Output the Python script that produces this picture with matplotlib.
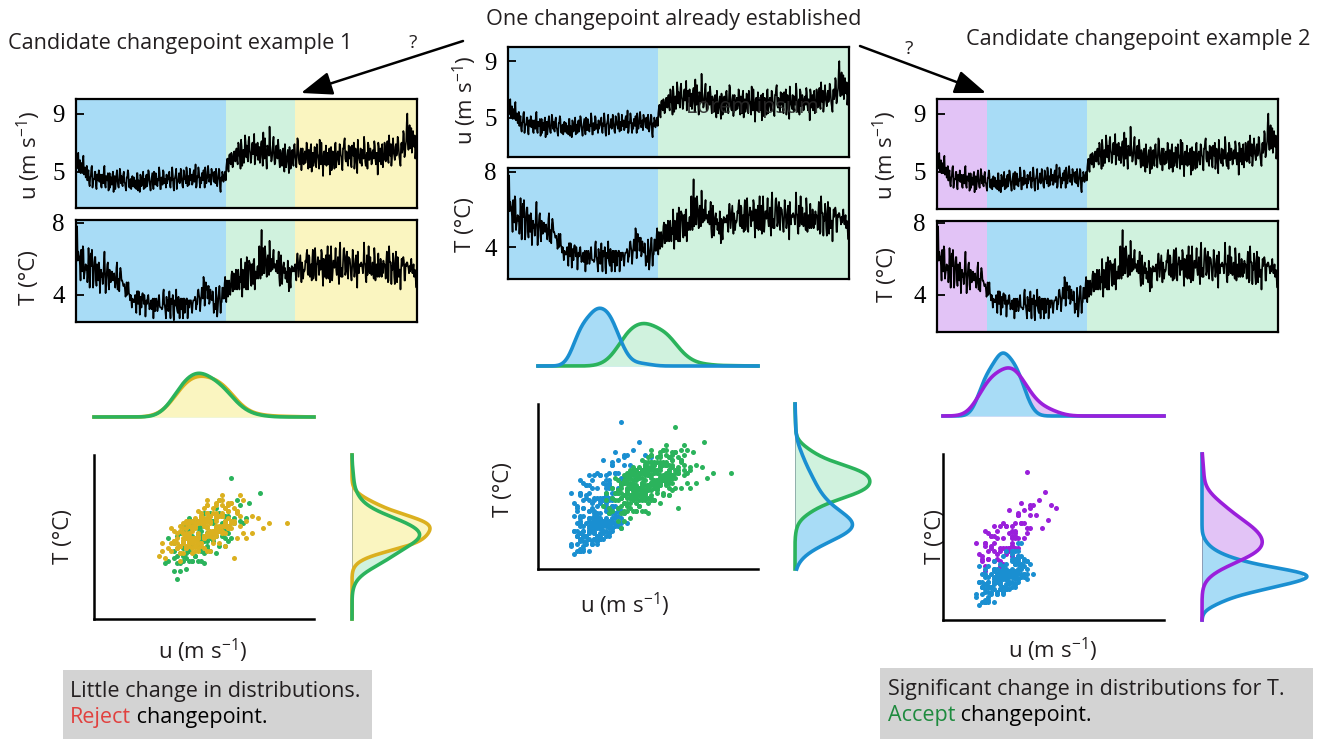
import numpy as np
import matplotlib
matplotlib.use("Agg")
import matplotlib.pyplot as plt
from matplotlib.patches import Rectangle

plt.rcParams['font.family'] = ['Open Sans', 'DejaVu Sans']
plt.rcParams['mathtext.default'] = 'regular'

# The traces were read as two interleaved halves:
# *_a holds samples 0, 2, 4, ... and *_b holds samples 1, 3, 5, ...
# wind speed u (m s-1)
u_a = [5.9, 5.3, 6.3, 5.4, 4.9, 5.6, 5.7, 4.8, 5.3, 4.7,
       4.4, 5.1, 4.0, 4.7, 5.4, 4.3, 4.5, 5.0, 3.8, 4.8,
       5.1, 4.4, 4.0, 4.8, 4.2, 5.4, 3.9, 4.5, 4.9, 3.8,
       3.9, 4.6, 4.8, 3.6, 4.7, 4.2, 5.1, 4.0, 4.5, 4.9,
       4.7, 4.0, 5.0, 4.2, 3.7, 4.6, 4.9, 3.9, 4.5, 4.1,
       4.0, 4.6, 4.3, 3.8, 4.9, 4.4, 3.6, 4.7, 4.2, 5.0,
       4.5, 3.9, 4.8, 4.4, 5.0, 4.0, 4.3, 4.9, 3.8, 4.6,
       4.9, 4.2, 4.5, 5.3, 3.8, 4.6, 4.1, 5.0, 4.4, 3.9,
       4.2, 4.5, 5.0, 3.9, 4.4, 4.8, 3.7, 4.6, 5.2, 4.3,
       4.6, 4.2, 5.2, 4.4, 3.9, 4.9, 4.5, 5.3, 4.0, 4.7,
       5.2, 4.5, 4.1, 4.9, 4.3, 5.5, 4.0, 4.6, 5.0, 3.9,
       4.2, 4.9, 5.1, 3.9, 5.0, 4.5, 5.4, 4.3, 4.8, 5.2,
       4.9, 4.3, 4.7, 5.2, 4.0, 4.6, 5.1, 3.6, 4.4, 4.8,
       4.5, 5.0, 5.3, 5.9, 5.0, 6.2, 5.5, 6.0, 5.4, 6.4,
       5.7, 6.6, 5.5, 6.9, 6.0, 7.2, 5.4, 6.5, 6.1, 7.0,
       6.8, 5.7, 7.4, 6.2, 5.9, 7.0, 6.4, 5.5, 6.9, 6.1,
       5.8, 6.7, 6.0, 7.1, 5.4, 6.5, 7.3, 5.9, 6.8, 6.2,
       8.1, 6.4, 5.8, 7.0, 6.1, 5.6, 6.8, 5.9, 6.6, 5.3,
       6.2, 5.4, 6.6, 5.0, 6.0, 5.7, 6.5, 4.9, 6.3, 5.6,
       6.5, 5.4, 6.9, 5.8, 6.2, 7.1, 5.6, 6.3, 5.1, 6.6,
       5.5, 6.4, 5.9, 6.8, 5.2, 6.1, 6.6, 5.0, 6.3, 5.7,
       6.6, 5.3, 6.2, 5.8, 7.2, 5.5, 6.0, 4.7, 6.4, 5.9,
       5.4, 6.3, 5.9, 4.8, 6.7, 5.6, 6.1, 5.2, 7.0, 5.8,
       6.4, 5.5, 6.8, 6.0, 5.1, 6.6, 7.3, 5.7, 6.2, 5.4,
       5.9, 6.7, 5.3, 6.3, 7.0, 5.6, 6.1, 4.9, 6.5, 5.8,
       6.6, 5.4, 6.2, 7.4, 5.7, 6.0, 5.2, 6.8, 5.9, 6.3,
       5.6, 6.5, 7.1, 5.8, 6.3, 4.8, 6.7, 6.0, 5.5, 6.9,
       6.2, 7.0, 5.7, 6.5, 5.9, 7.5, 6.1, 5.4, 6.8, 6.3,
       5.8, 6.9, 6.3, 7.2, 6.0, 5.4, 7.0, 6.6, 7.6, 6.2,
       7.1, 9.0, 6.5, 8.2, 7.4, 6.3, 7.8, 6.7, 5.9, 7.2]
u_b = [5.2, 6.0, 5.0, 5.8, 5.5, 4.9, 6.1, 5.0, 4.6, 5.4,
       4.9, 4.2, 4.6, 5.3, 3.9, 4.5, 5.0, 4.1, 4.8, 4.4,
       4.3, 4.8, 3.9, 4.6, 5.2, 4.1, 4.7, 4.4, 3.7, 4.9,
       4.6, 4.1, 5.0, 4.3, 3.8, 4.8, 4.4, 3.9, 5.2, 4.2,
       4.1, 4.8, 4.3, 3.9, 4.6, 5.1, 4.0, 4.4, 3.8, 4.7,
       4.6, 3.9, 4.4, 4.9, 3.7, 4.2, 4.8, 4.0, 4.5, 3.8,
       4.2, 4.7, 4.0, 5.1, 4.4, 3.7, 4.6, 4.3, 5.0, 4.1,
       4.7, 4.0, 4.4, 4.9, 3.8, 4.6, 5.1, 4.2, 4.5, 4.8,
       4.4, 4.9, 4.1, 4.6, 5.3, 4.0, 4.5, 4.8, 3.8, 4.3,
       4.9, 4.3, 4.7, 4.0, 5.1, 4.5, 4.2, 5.0, 4.6, 4.1,
       4.4, 4.8, 4.2, 5.1, 4.5, 3.9, 4.7, 5.3, 4.3, 4.6,
       4.9, 4.4, 4.8, 5.3, 4.2, 4.6, 5.0, 4.5, 4.1, 4.9,
       4.5, 5.0, 4.2, 4.7, 4.4, 5.2, 3.9, 4.6, 5.0, 4.3,
       4.8, 4.4, 5.7, 5.2, 6.1, 5.6, 6.3, 5.3, 6.2, 5.8,
       6.4, 5.8, 7.0, 6.1, 5.2, 6.7, 6.3, 5.6, 7.5, 6.0,
       6.0, 7.1, 6.5, 5.6, 6.8, 6.2, 7.6, 5.8, 6.3, 7.0,
       6.6, 5.6, 6.9, 6.2, 7.7, 5.9, 6.4, 5.2, 6.7, 6.1,
       6.9, 5.7, 6.3, 7.4, 5.5, 6.6, 6.0, 7.2, 5.8, 6.5,
       5.5, 6.4, 5.8, 6.9, 5.3, 6.1, 5.6, 6.7, 5.2, 6.0,
       5.7, 6.8, 6.1, 5.3, 7.3, 6.0, 5.5, 6.6, 6.2, 5.6,
       6.2, 5.6, 7.0, 5.8, 6.5, 5.3, 6.9, 6.0, 5.4, 6.7,
       5.6, 6.9, 6.1, 5.2, 6.5, 7.0, 5.7, 6.3, 5.5, 6.8,
       6.1, 5.5, 6.6, 6.0, 5.1, 6.4, 5.7, 6.9, 5.3, 6.2,
       5.8, 6.9, 6.2, 5.4, 6.6, 7.1, 5.9, 6.4, 5.6, 6.8,
       6.3, 5.5, 6.8, 6.1, 5.2, 6.6, 5.8, 7.2, 6.0, 5.6,
       5.7, 6.5, 5.9, 6.9, 5.4, 6.3, 7.0, 5.8, 6.6, 5.5,
       6.4, 5.9, 6.8, 5.5, 6.2, 7.0, 5.7, 6.6, 6.1, 5.3,
       5.8, 6.6, 6.0, 7.1, 5.6, 6.4, 6.9, 5.9, 7.3, 6.1,
       6.7, 6.1, 7.4, 6.5, 5.7, 6.9, 6.3, 7.8, 6.0, 6.8,
       8.4, 7.0, 7.6, 6.6, 8.0, 7.3, 6.9, 7.5, 6.4, 6.9]

# temperature T (deg C), same sampling
T_a = [7.0, 7.8, 6.4, 6.1, 4.8, 6.1, 6.7, 4.9, 5.4, 5.4,
       4.7, 6.6, 4.4, 6.3, 6.5, 4.4, 5.8, 6.1, 4.5, 5.3,
       5.8, 4.1, 5.4, 5.2, 5.0, 6.4, 4.1, 5.2, 5.8, 4.3,
       5.0, 4.8, 4.9, 5.0, 4.7, 4.7, 5.8, 4.4, 4.2, 5.5,
       4.8, 4.7, 4.5, 4.3, 4.1, 4.0, 4.7, 4.0, 4.0, 3.3,
       3.7, 3.6, 4.0, 3.0, 4.2, 4.2, 2.9, 3.9, 4.0, 3.9,
       4.0, 2.8, 3.7, 3.9, 3.6, 3.3, 3.7, 3.7, 2.7, 3.8,
       3.6, 3.6, 3.3, 4.0, 3.3, 3.3, 3.3, 4.3, 3.4, 2.7,
       3.4, 3.1, 4.2, 2.7, 3.5, 4.0, 2.6, 3.4, 4.3, 3.1,
       3.9, 2.7, 3.8, 3.8, 2.7, 3.8, 3.7, 3.8, 2.7, 3.7,
       3.7, 3.7, 3.0, 3.7, 3.7, 3.8, 3.5, 4.2, 4.0, 3.1,
       3.9, 3.9, 5.0, 3.4, 4.7, 4.5, 4.2, 3.5, 4.3, 3.8,
       4.2, 3.0, 3.5, 4.4, 2.8, 3.8, 4.5, 3.0, 3.6, 4.4,
       3.8, 5.0, 3.6, 4.5, 4.3, 4.2, 4.5, 5.3, 4.2, 4.7,
       4.7, 4.6, 4.8, 4.9, 5.0, 6.0, 3.9, 5.1, 5.1, 5.1,
       6.1, 4.3, 5.9, 5.7, 4.5, 5.7, 5.9, 4.3, 5.2, 5.3,
       4.9, 6.7, 4.9, 7.6, 5.4, 5.2, 6.7, 5.8, 5.8, 5.2,
       7.0, 5.3, 5.9, 6.1, 5.5, 5.7, 5.6, 5.2, 6.4, 4.5,
       6.2, 4.6, 5.6, 5.2, 4.9, 5.1, 5.9, 4.2, 4.8, 5.2,
       5.3, 5.4, 5.6, 5.1, 6.0, 5.9, 5.4, 6.2, 4.7, 5.5,
       5.4, 5.4, 5.8, 6.5, 5.1, 6.1, 5.5, 4.8, 6.5, 5.1,
       6.6, 4.8, 5.7, 5.9, 5.9, 5.4, 6.3, 4.5, 5.5, 5.8,
       4.9, 6.7, 4.9, 4.7, 6.7, 4.8, 5.9, 5.5, 6.6, 5.1,
       6.1, 4.6, 6.9, 5.0, 5.0, 6.5, 6.2, 5.3, 6.4, 4.9,
       6.0, 5.6, 4.8, 6.5, 5.6, 5.3, 6.2, 4.4, 5.4, 5.7,
       5.6, 5.7, 5.2, 6.9, 5.7, 4.7, 5.1, 6.7, 5.2, 5.3,
       5.2, 5.2, 6.6, 4.8, 5.7, 5.0, 5.5, 5.2, 5.6, 5.7,
       5.9, 5.7, 4.9, 6.4, 4.7, 6.7, 5.8, 4.6, 5.4, 5.9,
       4.6, 6.4, 4.7, 5.8, 5.4, 4.3, 6.0, 5.9, 5.9, 4.8,
       5.6, 5.8, 5.5, 5.6, 5.7, 5.4, 5.4, 5.0, 5.2, 4.4]
T_b = [6.3, 5.9, 6.2, 5.6, 6.5, 5.3, 6.5, 5.2, 5.7, 5.6,
       5.2, 5.7, 5.7, 5.6, 5.5, 4.8, 6.1, 4.9, 5.7, 4.8,
       5.5, 5.0, 5.0, 4.6, 5.8, 5.3, 4.8, 5.7, 4.6, 5.4,
       4.7, 5.3, 4.8, 5.2, 4.4, 5.5, 4.3, 4.9, 5.2, 5.3,
       4.8, 4.5, 4.6, 3.9, 4.7, 4.2, 4.1, 3.7, 3.8, 3.8,
       3.6, 3.8, 3.4, 4.2, 3.5, 4.0, 3.8, 3.3, 4.1, 3.5,
       3.7, 3.4, 3.5, 4.0, 3.2, 3.5, 3.2, 3.8, 3.6, 3.1,
       3.8, 3.1, 3.8, 3.4, 3.3, 3.2, 4.1, 3.5, 3.1, 3.9,
       3.7, 3.3, 3.3, 3.8, 3.6, 2.9, 3.7, 3.5, 3.3, 3.0,
       3.4, 3.6, 3.2, 3.3, 3.8, 3.0, 3.5, 3.8, 3.2, 3.3,
       3.7, 3.3, 3.5, 3.7, 3.9, 3.2, 3.5, 4.3, 3.8, 3.6,
       4.4, 3.8, 4.7, 4.3, 4.3, 3.8, 4.5, 3.6, 3.8, 3.7,
       3.8, 3.5, 3.2, 3.9, 3.2, 4.1, 3.7, 3.6, 4.4, 3.8,
       4.6, 3.8, 4.8, 3.9, 4.8, 4.0, 5.1, 4.2, 5.2, 4.3,
       5.4, 4.3, 5.4, 4.3, 4.7, 4.9, 5.4, 4.4, 5.8, 4.3,
       5.4, 5.2, 5.8, 4.6, 5.7, 4.6, 6.0, 5.3, 4.9, 5.6,
       5.5, 5.7, 6.1, 5.1, 6.6, 5.2, 6.2, 5.0, 6.2, 5.1,
       5.9, 6.0, 5.4, 6.5, 5.7, 5.3, 5.9, 5.8, 5.0, 5.9,
       5.5, 5.2, 5.8, 5.5, 5.3, 4.7, 5.2, 5.5, 4.4, 5.6,
       5.5, 5.3, 5.7, 4.8, 6.3, 5.0, 5.8, 5.5, 5.8, 4.9,
       5.3, 5.9, 6.3, 5.2, 6.2, 5.0, 5.7, 5.9, 4.9, 6.1,
       5.8, 5.7, 6.1, 5.1, 5.4, 6.5, 5.2, 6.0, 5.0, 6.2,
       5.9, 5.0, 6.2, 5.3, 5.6, 5.3, 5.9, 5.9, 5.4, 5.3,
       5.2, 6.4, 5.3, 5.5, 5.7, 6.6, 5.1, 6.1, 5.2, 6.1,
       6.0, 5.1, 5.5, 6.0, 5.0, 6.0, 5.0, 6.4, 5.2, 5.6,
       5.8, 5.5, 5.7, 5.8, 4.9, 6.2, 5.6, 5.5, 6.1, 5.1,
       5.8, 4.9, 6.1, 5.2, 5.2, 6.3, 5.0, 6.0, 5.0, 5.2,
       5.6, 5.4, 5.8, 5.8, 4.8, 5.9, 5.8, 5.6, 6.3, 5.0,
       5.7, 4.9, 6.1, 5.0, 5.4, 5.4, 5.6, 6.1, 4.8, 5.7,
       5.8, 5.6, 5.2, 5.3, 6.0, 5.2, 5.7, 5.4, 4.7, 4.9]

# changepoints: index of the first sample of a new segment
cp_early = 88    # candidate, example 2
cp_main = 264    # already established
cp_late = 386    # candidate, example 1

U_TICKS = [5, 9]
T_TICKS = [4, 8]
U_LABEL = 'u (m s$^{-1}$)'
T_LABEL = 'T (°C)'
U_LIM = (2.5, 9.9)
T_LIM = (2.0, 8.5)

# (fill, line) colour per segment
BLUE = ('#a8dcf6', '#1a8fd1')
GREEN = ('#d0f2de', '#2bb35c')
YELLOW = ('#faf5c0', '#dbb01f')
PURPLE = ('#e2c3f6', '#9a1fdb')
TXT = '#231f20'

W, H = 1320, 739
fig = plt.figure(figsize=(W / 100, H / 100), dpi=100)


def px_axes(l, t, r, b):
    return fig.add_axes([l / W, 1 - b / H, (r - l) / W, (b - t) / H])


# overlay in pixel coordinates for titles, arrows and boxes
ov = px_axes(0, 0, W, H)
ov.set_xlim(0, W)
ov.set_ylim(H, 0)
ov.axis('off')

uu = np.column_stack([u_a, u_b]).ravel()
tt = np.column_stack([T_a, T_b]).ravel()
n = len(uu)
idx = np.arange(n)


def series(box, y, ylim, ticks, segs):
    ax = px_axes(*box)
    for a, b, col in segs:
        ax.axvspan(a - 0.5, b - 0.5, color=col[0], lw=0)
    ax.plot(idx, y, color='k', lw=1.2)
    ax.set_xlim(0, n - 1)
    ax.set_ylim(*ylim)
    ax.set_xticks([])
    ax.set_yticks(ticks)
    ax.tick_params(axis='y', direction='in', length=6, width=1.3, pad=8,
                   labelsize=18, labelfontfamily='Liberation Serif')
    for s in ax.spines.values():
        s.set_linewidth(1.6)
    return ax


def kde(v, grid):
    v = np.asarray(v, float)
    bw = 1.4 * v.std(ddof=1) * len(v) ** -0.2
    z = (grid[:, None] - v[None, :]) / bw
    return np.exp(-0.5 * z ** 2).sum(1) / (len(v) * bw * np.sqrt(2 * np.pi))


def joint(sbox, tbox, rbox, first, second):
    segs = (first, second)
    ax = px_axes(*sbox)
    for lo, hi, c in segs:
        ax.scatter(uu[lo:hi], tt[lo:hi], s=13, color=c[1], lw=0)
    ax.set_xlim(*U_LIM)
    ax.set_ylim(*T_LIM)
    ax.set_xticks([])
    ax.set_yticks([])
    for s in ['top', 'right']:
        ax.spines[s].set_visible(False)
    for s in ['left', 'bottom']:
        ax.spines[s].set_linewidth(1.8)

    top = px_axes(*tbox)
    gu = np.linspace(*U_LIM, 300)
    du = [kde(uu[lo:hi], gu) for lo, hi, c in segs]
    for d, (lo, hi, c) in zip(du, segs):
        top.fill_between(gu, 0, d, color=c[0], lw=0)
    for d, (lo, hi, c) in reversed(list(zip(du, segs))):
        top.plot(gu, d, color=c[1], lw=2.6, clip_on=False)
    top.set_xlim(*U_LIM)
    top.set_ylim(0, 0.85)
    top.axis('off')
    top.axhline(0, color='k', lw=1.8, zorder=0)

    side = px_axes(*rbox)
    gt = np.linspace(*T_LIM, 300)
    dt = [kde(tt[lo:hi], gt) for lo, hi, c in segs]
    for d, (lo, hi, c) in zip(dt, segs):
        side.fill_betweenx(gt, 0, d, color=c[0], lw=0)
    for d, (lo, hi, c) in reversed(list(zip(dt, segs))):
        side.plot(d, gt, color=c[1], lw=2.6, clip_on=False)
    side.set_ylim(*T_LIM)
    side.set_xlim(0, 0.77)
    side.axis('off')
    side.axvline(0, color='k', lw=1.8, zorder=0)


# left: candidate changepoint example 1
left_segs = [(0, cp_main, BLUE), (cp_main, cp_late, GREEN), (cp_late, n + 1, YELLOW)]
series((76, 99, 417, 208), uu, (2.5, 10.0), U_TICKS, left_segs)
series((76, 220, 417, 322), tt, (2.5, 8.15), T_TICKS, left_segs)
joint((94, 455, 314, 619), (94, 345, 314, 417), (352, 455, 452, 619),
      (cp_main, cp_late, GREEN), (cp_late, n, YELLOW))

# middle: one changepoint already established
mid_segs = [(0, cp_main, BLUE), (cp_main, n + 1, GREEN)]
axm = series((508, 47, 849, 157), uu, (2.2, 10.0), U_TICKS, mid_segs)
series((508, 168, 849, 279), tt, (2.3, 8.2), T_TICKS, mid_segs)
axm.text(0.718, 0.45, 'Lorem ipsum', transform=axm.transAxes, ha='center',
         va='center', fontsize=15.5, color='#2a2a2a', alpha=0.9)
joint((538, 404, 758, 569), (538, 294, 758, 366), (795, 404, 895, 569),
      (0, cp_main, BLUE), (cp_main, n, GREEN))

# right: candidate changepoint example 2
right_segs = [(0, cp_early, PURPLE), (cp_early, cp_main, BLUE), (cp_main, n + 1, GREEN)]
series((937, 99, 1278, 209), uu, (2.45, 10.0), U_TICKS, right_segs)
series((937, 221, 1278, 332), tt, (1.95, 8.1), T_TICKS, right_segs)
joint((943, 454, 1164, 620), (943, 344, 1164, 416), (1202, 454, 1302, 620),
      (0, cp_early, PURPLE), (cp_early, cp_main, BLUE))

# titles
ov.text(8, 43, 'Candidate changepoint example 1', ha='left', va='center',
        fontsize=15.6, color=TXT)
ov.text(674, 20, 'One changepoint already established', ha='center',
        va='center', fontsize=15.6, color=TXT)
ov.text(1138, 39, 'Candidate changepoint example 2', ha='center', va='center',
        fontsize=15.6, color=TXT)

# axis labels
for x, y, lab in [(29, 155, U_LABEL), (29, 278, T_LABEL),
                  (465, 100, U_LABEL), (465, 225, T_LABEL),
                  (885, 155, U_LABEL), (887, 275, T_LABEL),
                  (63, 537, T_LABEL), (504, 490, T_LABEL), (935, 537, T_LABEL)]:
    ov.text(x, y, lab, rotation=90, ha='center', va='center', fontsize=16,
            color=TXT)
for x, y in [(203, 651), (625, 605), (1053, 650)]:
    ov.text(x, y, U_LABEL, ha='center', va='center', fontsize=16, color=TXT)

# arrows with question marks
head = dict(arrowstyle='-|>,head_length=0.8,head_width=0.3', color='k',
            lw=1.8, mutation_scale=24, shrinkA=0, shrinkB=0)
ov.annotate('', xy=(301, 93), xytext=(463, 41), arrowprops=head)
ov.annotate('', xy=(986, 93), xytext=(860, 46), arrowprops=head)
ov.text(413, 43, '?', ha='center', va='center', fontsize=14, color=TXT)
ov.text(909, 49, '?', ha='center', va='center', fontsize=14, color=TXT)

# verdict boxes
ov.add_patch(Rectangle((63, 670), 309, 69, color='#d3d3d3', lw=0))
ov.text(70, 691, 'Little change in distributions.', va='center',
        fontsize=15.5, color=TXT)
rj = ov.text(70, 718, 'Reject', va='center', fontsize=15.5, color='#e1413f')
ov.annotate(' changepoint.', xy=(1, 0), xycoords=rj, va='bottom',
            fontsize=15.5, color='k')

ov.add_patch(Rectangle((880, 668), 433, 71, color='#d3d3d3', lw=0))
ov.text(888, 690, 'Significant change in distributions for T.', va='center',
        fontsize=15.5, color=TXT)
ac = ov.text(888, 716, 'Accept', va='center', fontsize=15.5, color='#1e8a3e')
ov.annotate(' changepoint.', xy=(1, 0), xycoords=ac, va='bottom',
            fontsize=15.5, color='k')

fig.savefig('out.png', dpi=100)
